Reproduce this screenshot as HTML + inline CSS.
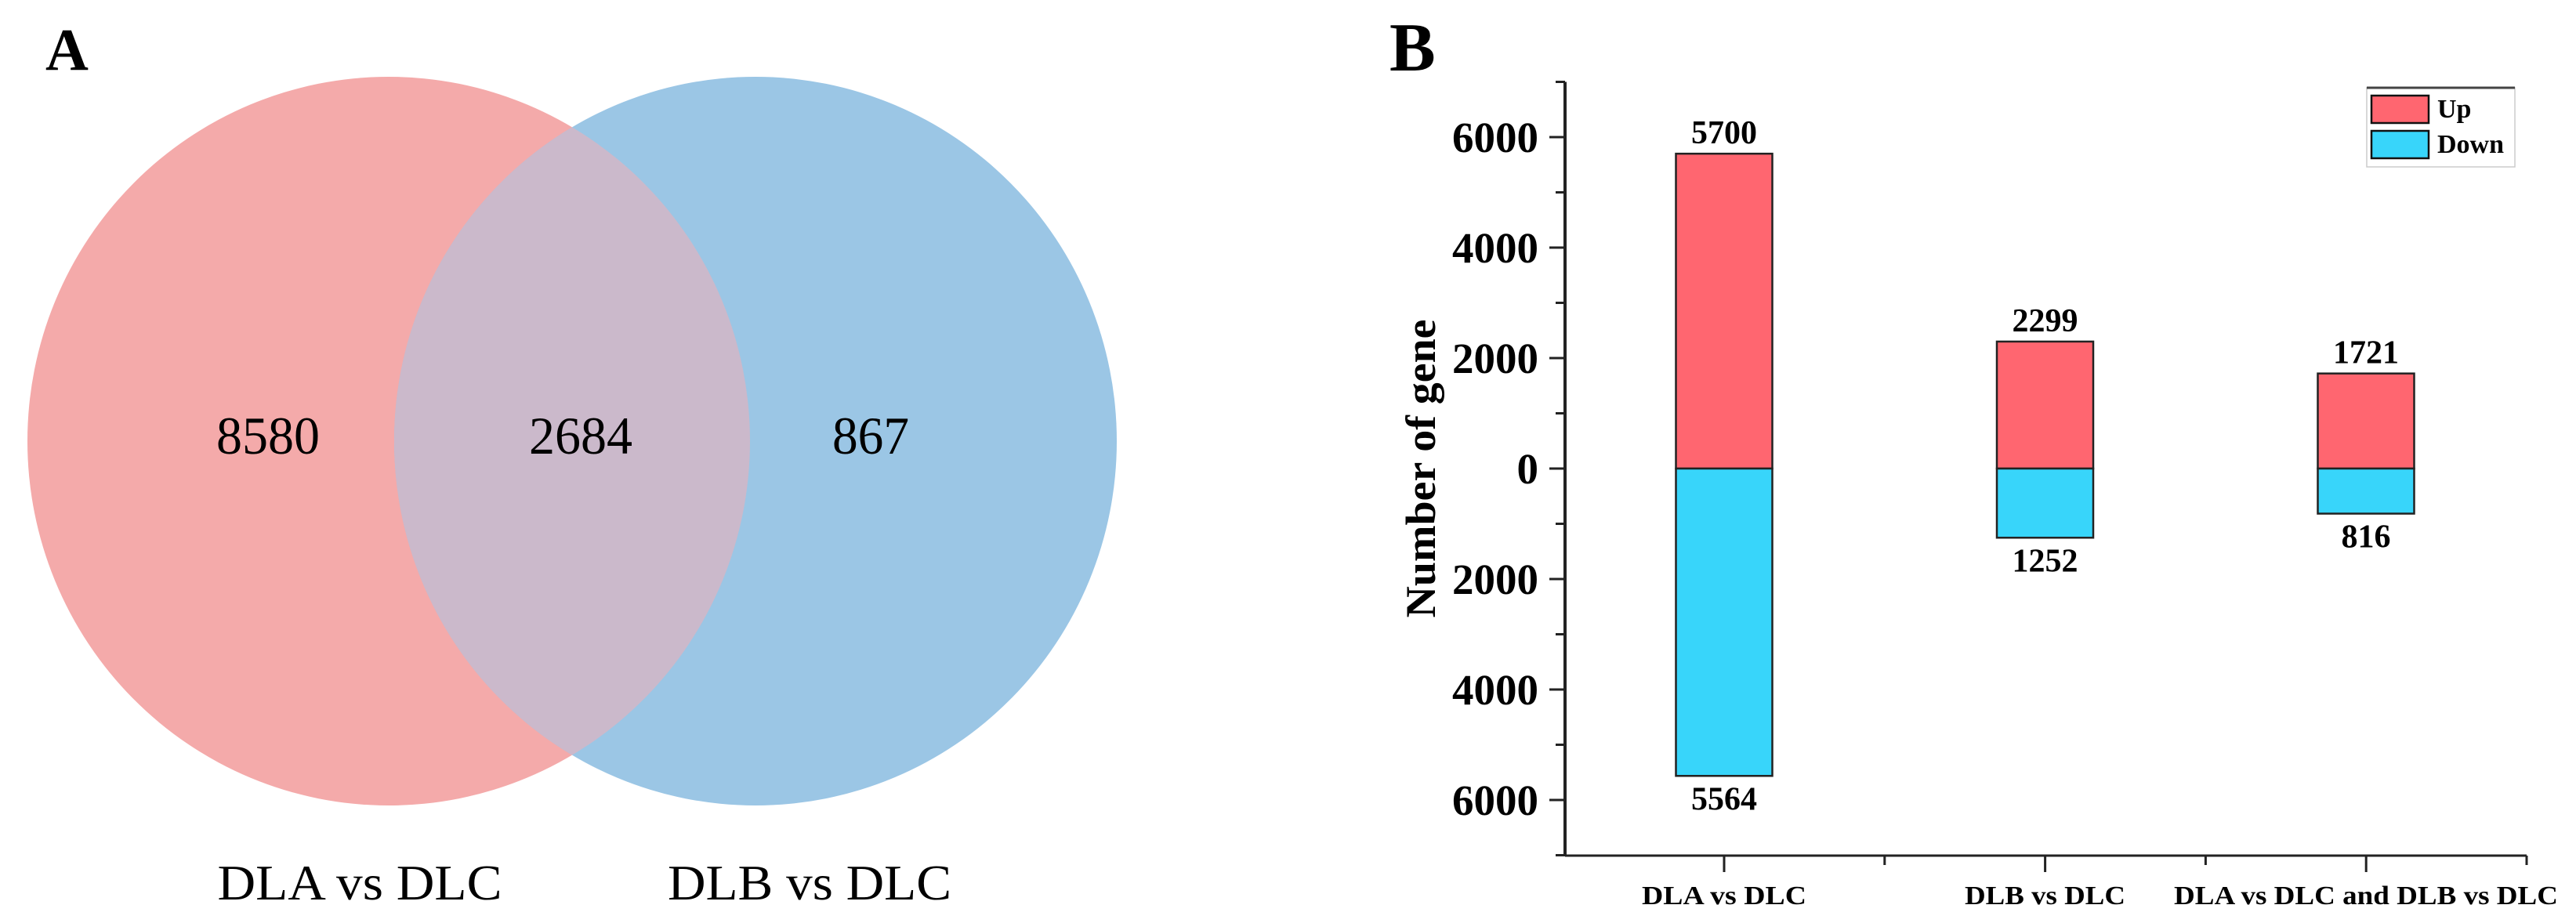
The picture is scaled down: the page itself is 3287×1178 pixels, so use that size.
<!DOCTYPE html>
<html><head><meta charset="utf-8"><style>
html,body{margin:0;padding:0;background:#fff;}
svg{display:block;}
svg text{font-family:"Liberation Serif","Times New Roman",serif;}
</style></head><body>
<svg id="fig" width="3287" height="1178" viewBox="0 0 3287 1178" xmlns="http://www.w3.org/2000/svg" font-family="Liberation Serif, serif">
<rect width="3287" height="1178" fill="#fff"/>
<g>
  <text x="58" y="89" font-size="76" font-weight="bold">A</text>
  <ellipse cx="496" cy="563" rx="461" ry="465" fill="#F4AAAA"/>
  <ellipse cx="964" cy="563" rx="461" ry="465" fill="#9BC6E5"/>
  <clipPath id="cl"><ellipse cx="496" cy="563" rx="461" ry="465"/></clipPath>
  <ellipse cx="964" cy="563" rx="461" ry="465" fill="#CBB9CB" clip-path="url(#cl)"/>
  <text x="342" y="579" font-size="68" text-anchor="middle" textLength="132" lengthAdjust="spacingAndGlyphs">8580</text>
  <text x="741" y="579" font-size="68" text-anchor="middle" textLength="132" lengthAdjust="spacingAndGlyphs">2684</text>
  <text x="1111" y="579" font-size="68" text-anchor="middle" textLength="98" lengthAdjust="spacingAndGlyphs">867</text>
  <text x="459" y="1148" font-size="64" text-anchor="middle" textLength="363" lengthAdjust="spacingAndGlyphs">DLA vs DLC</text>
  <text x="1033" y="1148" font-size="64" text-anchor="middle" textLength="362" lengthAdjust="spacingAndGlyphs">DLB vs DLC</text>
</g>
<g id="chart">
  <text x="1773" y="90" font-size="88" font-weight="bold">B</text>
</g>
</svg>
<script>
const categories = ["DLA vs DLC", "DLB vs DLC", "DLA vs DLC and DLB vs DLC"];
const upValues = [5700, 2299, 1721];
const downValues = [5564, 1252, 816];
const yTickValues = [6000, 4000, 2000, 0, -2000, -4000, -6000];
const yTickLabels = ["6000", "4000", "2000", "0", "2000", "4000", "6000"];

const NS = "http://www.w3.org/2000/svg";
const g = document.getElementById("chart");
const zeroY = 598, pxPer = 0.0705;
const axisX = 1997, xStart = 1997, xEnd = 3224;
function yScale(v){ return zeroY - v * pxPer; }
function xScale(i){ return 2200 + i * 409.5; }
const barW = 123;
function mk(tag, attrs){ const e = document.createElementNS(NS, tag); for (const k in attrs) e.setAttribute(k, attrs[k]); g.appendChild(e); return e; }

let ax = mk("line", {x1: axisX, y1: yScale(7000), x2: axisX, y2: yScale(-7000), stroke: "#222", "stroke-width": 4});


for (let v = -7000; v <= 7000; v += 1000) {
  const major = v % 2000 === 0;
  const t = mk("line", {x1: axisX - (major ? 20 : 12), y1: yScale(v), x2: axisX, y2: yScale(v), stroke: "#222", "stroke-width": 3});
  
  
}
yTickValues.forEach((v, i) => {
  const t = mk("text", {x: 1963, y: yScale(v) + 19, "font-size": 55, "font-weight": "bold", "text-anchor": "end"});
  t.textContent = yTickLabels[i];
  
  
});
const yt = mk("text", {x: 0, y: 0, "font-size": 54, "font-weight": "bold", "text-anchor": "middle", transform: "translate(1831,598) rotate(-90)", textLength: 381, lengthAdjust: "spacingAndGlyphs"});
yt.textContent = "Number of gene";



const xl = mk("line", {x1: xStart, y1: 1092, x2: xEnd, y2: 1092, stroke: "#222", "stroke-width": 3});


for (let k = 0; k <= 5; k++) {
  const x = 2200 + k * 204.8;
  const t = mk("line", {x1: x, y1: 1092, x2: x, y2: k % 2 === 0 ? 1113 : 1104, stroke: "#222", "stroke-width": 3});
  
  
}
const catLens = [210, 205, 490];
categories.forEach((c, i) => {
  const t = mk("text", {x: xScale(i), y: 1154, "font-size": 34, "font-weight": "bold", "text-anchor": "middle", textLength: catLens[i], lengthAdjust: "spacingAndGlyphs"});
  t.textContent = c;
  
  
});

categories.forEach((c, i) => {
  const x = xScale(i) - barW / 2;
  const up = mk("rect", {x: x, y: yScale(upValues[i]), width: barW, height: zeroY - yScale(upValues[i]), fill: "#FF6670", stroke: "#222", "stroke-width": 2.5});
  
  
  const dn = mk("rect", {x: x, y: zeroY, width: barW, height: yScale(-downValues[i]) - zeroY, fill: "#38D5FA", stroke: "#222", "stroke-width": 2.5});
  
  
  const ul = mk("text", {x: xScale(i), y: yScale(upValues[i]) - 13, "font-size": 42, "font-weight": "bold", "text-anchor": "middle"});
  ul.textContent = String(upValues[i]);
  
  
  const dl = mk("text", {x: xScale(i), y: yScale(-downValues[i]) + 43, "font-size": 42, "font-weight": "bold", "text-anchor": "middle"});
  dl.textContent = String(downValues[i]);
  
  
});

const lb = mk("rect", {x: 3020, y: 112, width: 189, height: 101, fill: "#fff", stroke: "#ccc", "stroke-width": 1.5});


const lt = mk("line", {x1: 3020, y1: 112, x2: 3209, y2: 112, stroke: "#444", "stroke-width": 3});


[["Up", "#FF6670", 122], ["Down", "#38D5FA", 167]].forEach(([lab, col, y]) => {
  const s = mk("rect", {x: 3026, y: y, width: 73, height: 35, fill: col, stroke: "#111", "stroke-width": 2.5});
  
  
  const t = mk("text", {x: 3110, y: y + 28, "font-size": 34, "font-weight": "bold"});
  t.textContent = lab;
  
  
});
</script>
</body></html>
